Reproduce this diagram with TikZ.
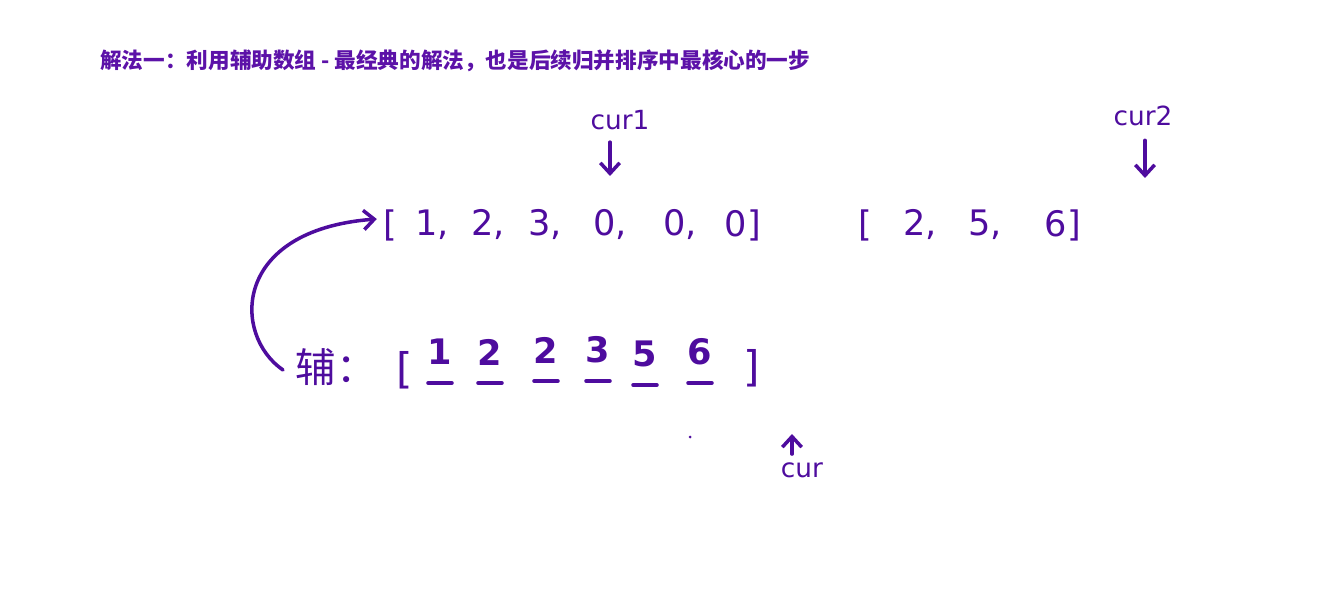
\documentclass[tikz,border=0pt]{standalone}
\usepackage{fontspec}
\setmainfont{DejaVu Sans}
\newfontfamily\cjk{Noto Sans CJK SC}
\usetikzlibrary{calc,arrows.meta}
\definecolor{ink}{RGB}{78,12,158}
\definecolor{titleink}{RGB}{92,18,168}
\tikzset{
	hand/.style={text=ink, inner sep=0pt, font=\fontsize{20}{24}\selectfont},
	ptr/.style={text=ink, inner sep=0pt, font=\fontsize{15}{18}\selectfont},
	pen/.style={draw=ink, line width=2pt, line cap=round, line join=round},
	tip/.style={-{Straight Barb[length=6pt,width=11pt]}},
}
\begin{document}
\begin{tikzpicture}[x=0.02cm,y=-0.02cm]
	\useasboundingbox (0,0) rectangle (1326,608);
	
	\node[anchor=west, inner sep=0pt, text=titleink, font=\cjk\bfseries\fontsize{12.3}{14}\selectfont] (title) at (100,61) {解法一：利用辅助数组 - 最经典的解法，也是后续归并排序中最核心的一步};
	
	% first array
	\node[hand] (la) at (390,225) {[};
	\node[hand] (a1) at (432,225) {1,};
	\node[hand] (a2) at (488,225) {2,};
	\node[hand] (a3) at (545,225) {3,};
	\node[hand] (a4) at (610,225) {0,};
	\node[hand] (a5) at (680,225) {0,};
	\node[hand] (a6) at (743,225) {0]};
	
	% second array
	\node[hand] (lb) at (865,225) {[};
	\node[hand] (b1) at (920,225) {2,};
	\node[hand] (b2) at (985,225) {5,};
	\node[hand] (b3) at (1063,225) {6]};
	
	% pointers
	\node[ptr] (cur1) at (620,120) {cur1};
	\coordinate (p1) at (610,176);
	\draw[pen,tip] (cur1.south -| p1) ++(0,12) -- (p1);
	\node[ptr] (cur2) at (1143,116) {cur2};
	\coordinate (p2) at (1145,178);
	\draw[pen,tip] (cur2.south -| p2) ++(0,14) -- (p2);
	\node[ptr] (cur) at (802,470) {cur};
	\coordinate (p3) at (792,434);
	\draw[pen,tip] (cur.north -| p3) ++(0,-8) -- (p3);
	
	% helper array
	\node[text=ink, inner sep=0pt, font=\cjk\fontsize{23}{28}\selectfont] (fu) at (336,367) {辅：};
	\node[hand, font=\fontsize{24}{28}\selectfont] (lc) at (405,370) {[};
	\node[hand, font=\bfseries\fontsize{20}{24}\selectfont] (c1) at (440,352) {1};
	\node[hand, font=\bfseries\fontsize{20}{24}\selectfont] (c2) at (490,352) {2};
	\node[hand, font=\bfseries\fontsize{20}{24}\selectfont] (c3) at (546,350) {2};
	\node[hand, font=\bfseries\fontsize{20}{24}\selectfont] (c4) at (598,350) {3};
	\node[hand, font=\bfseries\fontsize{20}{24}\selectfont] (c5) at (645,354) {5};
	\node[hand, font=\bfseries\fontsize{20}{24}\selectfont] (c6) at (700,352) {6};
	\node[hand, font=\fontsize{24}{28}\selectfont] (rc) at (752,368) {]};
	\foreach \i in {1,...,6}
		\draw[pen] ($(c\i)+(-12,31)$) -- ($(c\i)+(12,31)$);
	
	\fill[ink] (690,437) circle (1.5);
	
	% copy back
	\coordinate (back) at (283,370);
	\draw[pen,tip] (back) .. controls (232,335) and (232,230) .. ($(la.west)+(-6,-6)$);
\end{tikzpicture}
\end{document}
